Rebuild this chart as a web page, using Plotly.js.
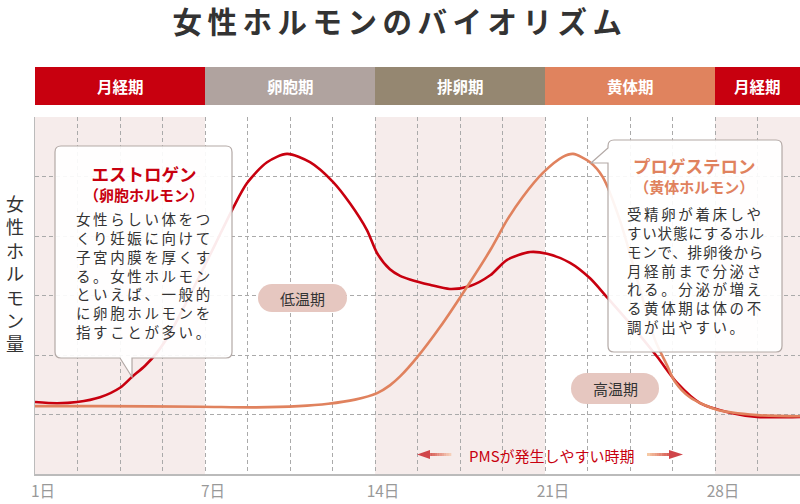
<!DOCTYPE html>
<html>
<head>
<meta charset="utf-8">
<script src="https://cdn.plot.ly/plotly-3.0.1.min.js"></script>
<style>html,body{margin:0;padding:0;background:#fff;}#chart{width:800px;height:504px;}</style>
</head>
<body>
<div id="chart"></div>
<script>
// ---- data ----
const tickPositions = [0, 4, 8, 12, 16];
const tickLabels = ['1日', '7日', '14日', '21日', '28日'];
const phaseNames = ['月経期', '卵胞期', '排卵期', '黄体期', '月経期'];
const phaseStart = [0, 4, 8, 12, 16];
const phaseEnd = [4, 8, 12, 16, 18];

const estrogenX = [0, 0.52, 0.99, 1.53, 2.0, 2.28, 2.59, 2.87, 3.18, 3.53, 3.88, 4.24, 4.66, 4.99, 5.46, 5.93, 6.47, 7.01, 7.41, 7.81, 8.05, 8.35, 8.59, 8.82, 9.29, 9.76, 10.24, 10.71, 11.11, 11.65, 12.05, 12.59, 13.06, 13.46, 14.07, 14.64, 15.11, 15.65, 16.35, 16.99, 18];
const estrogenY = [1.21, 1.19, 1.21, 1.29, 1.45, 1.63, 1.82, 2.04, 2.37, 2.84, 3.34, 3.86, 4.47, 4.89, 5.24, 5.38, 5.24, 4.91, 4.55, 4.10, 3.71, 3.44, 3.33, 3.27, 3.18, 3.11, 3.16, 3.34, 3.60, 3.73, 3.70, 3.55, 3.29, 2.97, 2.47, 1.97, 1.53, 1.19, 1.03, 0.96, 0.96];

const progX = [0, 1.53, 3.88, 5.2, 6.2, 6.9, 7.53, 8.05, 8.35, 8.59, 8.99, 9.53, 10.16, 10.71, 11.11, 11.48, 11.95, 12.42, 12.66, 13.06, 13.36, 13.76, 14.24, 14.59, 14.87, 15.05, 15.41, 16.05, 16.99, 18];
const progY = [1.14, 1.14, 1.13, 1.12, 1.14, 1.18, 1.25, 1.36, 1.49, 1.64, 1.96, 2.47, 3.14, 3.76, 4.27, 4.66, 5.06, 5.33, 5.38, 5.24, 4.99, 4.27, 3.09, 2.25, 1.83, 1.56, 1.29, 1.08, 0.99, 0.97];

// ---- layout helpers (pixel -> paper) ----
const ML = 35, MR = 0, MT = 117, MB = 30, W = 800, H = 504;
const PW = W - ML - MR, PH = H - MT - MB;
const X = px => (px - ML) / PW;
const Y = py => (H - MB - py) / PH;
const P = (px, py) => X(px) + ',' + Y(py);
const XMAX = 18;

const RED = '#c8000f', ORANGE = '#e0825e';
const FONT = '"Noto Sans CJK JP", "Noto Sans", sans-serif';
const phaseColors = [RED, '#b0a39f', '#958771', '#e0835e', RED];

const shapes = [];
const annotations = [];

// stripes + phase bar
phaseNames.forEach((n, i) => {
  if (i % 2 === 0) {
    shapes.push({type: 'rect', xref: 'x', yref: 'paper', x0: phaseStart[i], x1: phaseEnd[i], y0: 0, y1: 1,
      fillcolor: '#f6eceb', line: {width: 0}, layer: 'below'});
  }
  shapes.push({type: 'rect', xref: 'paper', yref: 'paper', x0: phaseStart[i] / XMAX, x1: phaseEnd[i] / XMAX,
    y0: Y(105), y1: Y(67), fillcolor: phaseColors[i], line: {width: 0}, layer: 'above'});
  annotations.push({xref: 'paper', yref: 'paper', x: (phaseStart[i] + Math.min(phaseEnd[i], phaseStart[i] + 4)) / 2 / XMAX,
    y: Y(86), text: '<b>' + n + '</b>', showarrow: false, font: {family: FONT, size: 15.5, color: '#ffffff'},
    xanchor: 'center', yanchor: 'middle'});
});

// callout boxes
function boxPath(x0, y0, x1, y1, r, tail) {
  let s = 'M' + P(x0 + r, y0) + ' L' + P(x1 - r, y0) + ' Q' + P(x1, y0) + ' ' + P(x1, y0 + r) +
    ' L' + P(x1, y1 - r) + ' Q' + P(x1, y1) + ' ' + P(x1 - r, y1);
  if (tail === 'bottom') s += ' L' + P(132, y1) + ' L' + P(132, 377) + ' L' + P(120, y1);
  s += ' L' + P(x0 + r, y1) + ' Q' + P(x0, y1) + ' ' + P(x0, y1 - r);
  if (tail === 'left') s += ' L' + P(x0, 163) + ' L' + P(591, 163) + ' L' + P(x0, 148);
  s += ' L' + P(x0, y0 + r) + ' Q' + P(x0, y0) + ' ' + P(x0 + r, y0) + ' Z';
  return s;
}
shapes.push({type: 'path', xref: 'paper', yref: 'paper', path: boxPath(55, 146, 232, 358, 6, 'bottom'),
  fillcolor: 'rgba(255,255,255,0.92)', line: {color: '#b3a9a6', width: 1.2}, layer: 'above'});
shapes.push({type: 'path', xref: 'paper', yref: 'paper', path: boxPath(608, 140, 782, 352, 6, 'left'),
  fillcolor: 'rgba(255,255,255,0.92)', line: {color: '#b3a9a6', width: 1.2}, layer: 'above'});

// pills
function pill(x0, y0, x1, y1, color) {
  const h = y1 - y0, r = h / 2;
  shapes.push({type: 'rect', xref: 'paper', yref: 'paper', x0: X(x0 + r), x1: X(x1 - r), y0: Y(y1), y1: Y(y0),
    fillcolor: color, line: {width: 0}, layer: 'above'});
  shapes.push({type: 'circle', xref: 'paper', yref: 'paper', x0: X(x0), x1: X(x0 + h), y0: Y(y1), y1: Y(y0),
    fillcolor: color, line: {width: 0}, layer: 'above'});
  shapes.push({type: 'circle', xref: 'paper', yref: 'paper', x0: X(x1 - h), x1: X(x1), y0: Y(y1), y1: Y(y0),
    fillcolor: color, line: {width: 0}, layer: 'above'});
}
pill(258, 284, 347, 312, '#e6c7c0');
pill(571, 373, 659, 404, '#e6c7c0');

// gradient arrows
function lerpColor(a, b, t) {
  const pa = [1, 3, 5].map(i => parseInt(a.substr(i, 2), 16));
  const pb = [1, 3, 5].map(i => parseInt(b.substr(i, 2), 16));
  return 'rgb(' + pa.map((v, i) => Math.round(v + (pb[i] - v) * t)).join(',') + ')';
}
function gradShaft(xa, xb, ca, cb, yc, th) {
  const n = 10;
  for (let i = 0; i < n; i++) {
    const s0 = xa + (xb - xa) * i / n, s1 = xa + (xb - xa) * (i + 1) / n + 0.3;
    shapes.push({type: 'rect', xref: 'paper', yref: 'paper', x0: X(s0), x1: X(s1), y0: Y(yc + th / 2), y1: Y(yc - th / 2),
      fillcolor: lerpColor(ca, cb, (i + 0.5) / n), line: {width: 0}, layer: 'above'});
  }
}
gradShaft(428, 451, '#d4504c', '#f8d6bf', 454.5, 3);
shapes.push({type: 'path', xref: 'paper', yref: 'paper', path: 'M' + P(417, 454.5) + ' L' + P(430, 450) + ' L' + P(430, 459) + ' Z',
  fillcolor: '#d0454a', line: {width: 0}, layer: 'above'});
gradShaft(647, 671, '#f8cfa8', '#d4504c', 454.5, 3);
shapes.push({type: 'path', xref: 'paper', yref: 'paper', path: 'M' + P(683, 454.5) + ' L' + P(669, 450) + ' L' + P(669, 459) + ' Z',
  fillcolor: '#d0454a', line: {width: 0}, layer: 'above'});

// texts
const LS = s => '<span style="letter-spacing:2.6px">' + s + '</span>';
annotations.push({xref: 'paper', yref: 'paper', x: X(143.5), y: Y(183),
  text: '<b><span style="font-size:17.5px">エストロゲン</span><br>（卵胞ホルモン）</b>', showarrow: false, align: 'center',
  font: {family: FONT, size: 15, color: RED}, xanchor: 'center', yanchor: 'middle'});
annotations.push({xref: 'paper', yref: 'paper', x: X(74), y: Y(275),
  text: ['女性らしい体をつ', 'くり妊娠に向けて', '子宮内膜を厚くす', 'る。女性ホルモン', 'といえば、一般的', 'に卵胞ホルモンを', '指すことが多い。'].map(LS).join('<br>'),
  showarrow: false, align: 'left', font: {family: FONT, size: 14.5, color: '#333333'}, xanchor: 'left', yanchor: 'middle'});

annotations.push({xref: 'paper', yref: 'paper', x: X(694), y: Y(175),
  text: '<b><span style="font-size:17.5px">プロゲステロン</span><br>（黄体ホルモン）</b>', showarrow: false, align: 'center',
  font: {family: FONT, size: 15, color: ORANGE}, xanchor: 'center', yanchor: 'middle'});
annotations.push({xref: 'paper', yref: 'paper', x: X(625), y: Y(270),
  text: ['受精卵が着床しや', 'すい状態にするホル', 'モンで、排卵後から', '月経前まで分泌さ', 'れる。分泌が増え', 'る黄体期は体の不', '調が出やすい。'].map((s, i) => (i === 1 || i === 2) ? '<span style="letter-spacing:0.8px">' + s + '</span>' : LS(s)).join('<br>'),
  showarrow: false, align: 'left', font: {family: FONT, size: 14.5, color: '#333333'}, xanchor: 'left', yanchor: 'middle'});

annotations.push({xref: 'paper', yref: 'paper', x: X(302.5), y: Y(298), text: '低温期', showarrow: false,
  font: {family: FONT, size: 15, color: '#333333'}, xanchor: 'center', yanchor: 'middle'});
annotations.push({xref: 'paper', yref: 'paper', x: X(615), y: Y(388.5), text: '高温期', showarrow: false,
  font: {family: FONT, size: 15, color: '#333333'}, xanchor: 'center', yanchor: 'middle'});
annotations.push({xref: 'paper', yref: 'paper', x: X(551), y: Y(455), text: 'PMSが発生しやすい時期', showarrow: false,
  font: {family: FONT, size: 15, color: RED}, xanchor: 'center', yanchor: 'middle'});
annotations.push({xref: 'paper', yref: 'paper', x: X(15), y: Y(273), text: '女<br>性<br>ホ<br>ル<br>モ<br>ン<br>量', showarrow: false,
  font: {family: FONT, size: 18, color: '#333333'}, xanchor: 'center', yanchor: 'middle'});

// x ticks: every grid unit, labelled at phase starts
const gridVals = [], gridText = [];
for (let i = 0; i <= XMAX; i++) {
  gridVals.push(i);
  const k = tickPositions.indexOf(i);
  gridText.push(k >= 0 ? tickLabels[k] : '');
}

const traces = [
  {x: estrogenX, y: estrogenY, type: 'scatter', mode: 'lines', line: {color: RED, width: 2.6, shape: 'spline', smoothing: 0.8},
    hoverinfo: 'skip', cliponaxis: true},
  {x: progX, y: progY, type: 'scatter', mode: 'lines', line: {color: ORANGE, width: 2.6, shape: 'spline', smoothing: 0.8},
    hoverinfo: 'skip', cliponaxis: true}
];

const layout = {
  width: W, height: H,
  margin: {l: ML, r: MR, t: MT, b: MB, pad: 0},
  paper_bgcolor: '#ffffff', plot_bgcolor: '#ffffff',
  showlegend: false, hovermode: false,
  title: {text: '<span style="letter-spacing:5.5px"><b>女性ホルモンのバイオリズム</b></span>', x: 0.5, xanchor: 'center',
    y: 1 - 23 / H, yref: 'container', yanchor: 'middle', font: {family: FONT, size: 29.5, color: '#333333'}},
  xaxis: {range: [0, XMAX], tickvals: gridVals, ticktext: gridText, showgrid: true, gridcolor: '#aaaaaa', griddash: '4px,3px',
    gridwidth: 1, showline: true, linecolor: '#bbbbbb', linewidth: 1.5, zeroline: false, ticks: '', fixedrange: true,
    tickfont: {family: FONT, size: 15.5, color: '#999999'}, ticklabelshift: 8, ticklabelstandoff: 3},
  yaxis: {range: [0, 6], dtick: 1, tick0: 0, showgrid: true, gridcolor: '#aaaaaa', griddash: '4px,3px', gridwidth: 1,
    showline: true, linecolor: '#bbbbbb', linewidth: 1.5, zeroline: false, showticklabels: false, ticks: '', fixedrange: true},
  shapes: shapes,
  annotations: annotations
};

Plotly.newPlot('chart', traces, layout, {displayModeBar: false, staticPlot: true});
</script>
</body>
</html>
